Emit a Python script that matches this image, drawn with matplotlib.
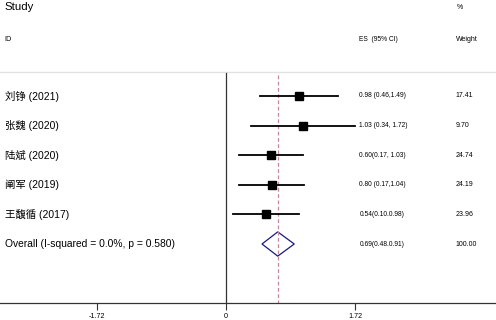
import matplotlib.pyplot as plt
from matplotlib.patches import Polygon

plt.rcParams['font.family'] = ['Liberation Sans', 'Noto Sans CJK SC', 'DejaVu Sans']

# Study data (as drawn in the figure)
studies = ['刘铮 (2021)', '张魏 (2020)', '陆斌 (2020)', '阐军 (2019)', '王馥循 (2017)']
es = [0.98, 1.03, 0.60, 0.61, 0.54]
lo = [0.46, 0.34, 0.17, 0.17, 0.10]
hi = [1.49, 1.72, 1.03, 1.04, 0.98]
es_text = ['0.98 (0.46,1.49)', '1.03 (0.34, 1.72)', '0.60(0.17, 1.03)',
           '0.80 (0.17,1.04)', '0.54(0.10.0.98)']
weights = ['17.41', '9.70', '24.74', '24.19', '23.96']

overall_label = 'Overall (I-squared = 0.0%, p = 0.580)'
overall_es = 0.69
overall_lo = 0.48
overall_hi = 0.91
overall_text = '0.69(0.48.0.91)'
overall_weight = '100.00'

xticks = [-1.72, 0, 1.72]

fig = plt.figure(figsize=(4.96, 3.2), dpi=100)
ax = fig.add_axes([0, 17 / 320, 1, 303 / 320])
ax.set_xlim(-3.013, 3.6)
ax.set_ylim(6.993, -3.243)

# header separator and reference lines
ax.axhline(-0.8, color='#e2e2e2', lw=1.0)
ax.plot([0, 0], [-0.77, 6.993], color='#333333', lw=0.9)
ax.plot([overall_es, overall_es], [-0.7, 6.993], color='#c48a9a', lw=0.9,
        ls=(0, (3, 2)))

# studies
for i, name in enumerate(studies):
    ax.plot([lo[i], hi[i]], [i, i], color='black', lw=1.3)
    ax.plot(es[i], i, marker='s', color='black', markersize=6)
    ax.text(-2.95, i, name, fontsize=7.5, va='center', ha='left')
    ax.text(1.78, i, es_text[i], fontsize=4.8, va='center', ha='left')
    ax.text(3.06, i, weights[i], fontsize=5.0, va='center', ha='left')

# overall diamond
n = len(studies)
dia = Polygon([[overall_lo, n], [overall_es, n - 0.41], [overall_hi, n],
               [overall_es, n + 0.41]], closed=True, fill=False,
              edgecolor='#1a1a80', lw=0.9)
ax.add_patch(dia)
ax.text(-2.95, n, overall_label, fontsize=7.4, va='center', ha='left')
ax.text(1.78, n, overall_text, fontsize=4.8, va='center', ha='left')
ax.text(3.06, n, overall_weight, fontsize=5.0, va='center', ha='left')

# headers
ax.text(-2.95, -3.0, 'Study', fontsize=8.2, va='center', ha='left')
ax.text(-2.95, -1.9, 'ID', fontsize=5.2, va='center', ha='left')
ax.text(1.78, -1.9, 'ES  (95% CI)', fontsize=4.8, va='center', ha='left')
ax.text(3.08, -3.0, '%', fontsize=5.0, va='center', ha='left')
ax.text(3.06, -1.9, 'Weight', fontsize=5.0, va='center', ha='left')

for s in ['top', 'right', 'left']:
    ax.spines[s].set_visible(False)
ax.spines['bottom'].set_color('#333333')
ax.spines['bottom'].set_linewidth(0.9)
ax.set_yticks([])
ax.set_xticks(xticks)
ax.set_xticklabels(['-1.72', '0', '1.72'])
ax.tick_params(axis='x', length=5, width=0.8, labelsize=5.2, pad=2,
               color='#333333')

fig.savefig('out.png', dpi=100)
